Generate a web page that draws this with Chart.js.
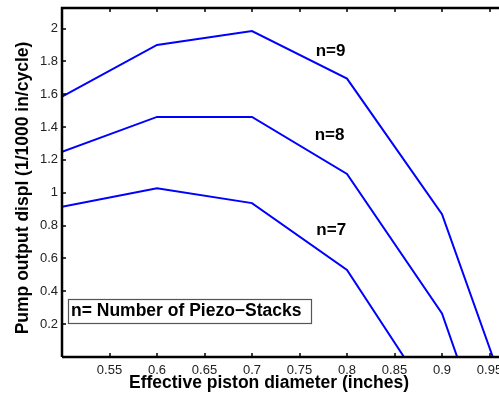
<!DOCTYPE html>
<html>
<head>
<meta charset="utf-8">
<script src="https://cdn.jsdelivr.net/npm/chart.js@4"></script>
<style>
  body { margin: 0; background: #fff; overflow: hidden; }
</style>
</head>
<body>
<canvas id="pumpChart" width="499" height="394"></canvas>
<script>
// diametre effectif du piston (pouces)
const diam9 = [0.5, 0.6, 0.7, 0.8, 0.9, 0.9535];
const displ9 = [1.585, 1.90, 1.985, 1.695, 0.87, 0];
const diam8 = [0.5, 0.6, 0.7, 0.8, 0.9, 0.916];
const displ8 = [1.25, 1.462, 1.462, 1.115, 0.265, 0];
const diam7 = [0.5, 0.6, 0.7, 0.8, 0.86];
const displ7 = [0.915, 1.027, 0.937, 0.53, 0];
const seriesNames = ['n=9', 'n=8', 'n=7'];
const xTicks = [0.55, 0.6, 0.65, 0.7, 0.75, 0.8, 0.85, 0.9, 0.95];
const yTicks = [0.2, 0.4, 0.6, 0.8, 1, 1.2, 1.4, 1.6, 1.8, 2];

const toPts = (xs, ys) => xs.map((x, i) => ({ x: x, y: ys[i] }));

const FONT = '"Liberation Sans", Arial, Helvetica, sans-serif';

// cadre + ticks vers l'interieur (style matlab) et textes
const matlabFrame = {
    id: 'matlabFrame',
    afterDatasetsDraw(chart) {
        const ctx = chart.ctx;
        const a = chart.chartArea;
        const xs = chart.scales.x, ys = chart.scales.y;
        ctx.save();
        ctx.strokeStyle = '#000';
        ctx.lineWidth = 2.5;
        ctx.beginPath();
        ctx.moveTo(a.left, a.bottom);
        ctx.lineTo(a.left, a.top);
        ctx.lineTo(a.right + 5, a.top);
        ctx.moveTo(a.left, a.bottom);
        ctx.lineTo(a.right + 5, a.bottom);
        ctx.stroke();
        ctx.lineWidth = 1.5;
        ctx.beginPath();
        xTicks.forEach(v => {
            const px = Math.round(xs.getPixelForValue(v));
            ctx.moveTo(px, a.bottom); ctx.lineTo(px, a.bottom - 4);
            ctx.moveTo(px, a.top); ctx.lineTo(px, a.top + 4);
        });
        yTicks.forEach(v => {
            const py = Math.round(ys.getPixelForValue(v));
            ctx.moveTo(a.left, py); ctx.lineTo(a.left + 4, py);
        });
        ctx.stroke();

        // etiquettes des courbes
        ctx.fillStyle = '#000';
        ctx.font = 'bold 17px ' + FONT;
        ctx.textAlign = 'center';
        ctx.textBaseline = 'middle';
        const lblPos = [[0.7827, 1.864], [0.7816, 1.352], [0.7834, 0.773]];
        seriesNames.forEach((s, i) => {
            ctx.fillText(s, xs.getPixelForValue(lblPos[i][0]), ys.getPixelForValue(lblPos[i][1]));
        });

        // boite texte
        ctx.fillStyle = '#fff';
        ctx.fillRect(68, 299, 244, 24);
        ctx.strokeStyle = '#555';
        ctx.lineWidth = 1.2;
        ctx.strokeRect(68.5, 299.5, 243, 24);
        ctx.fillStyle = '#000';
        ctx.font = 'bold 17.5px ' + FONT;
        ctx.textAlign = 'left';
        ctx.fillText('n= Number of Piezo\u2212Stacks', 71, 311.5);

        // titres des axes
        ctx.font = 'bold 17.5px ' + FONT;
        ctx.textAlign = 'center';
        ctx.fillText('Effective piston diameter (inches)', 269, 383);
        ctx.translate(23, 188);
        ctx.rotate(-Math.PI / 2);
        ctx.fillText('Pump output displ (1/1000 in/cycle)', 0, 0);
        ctx.restore();
    }
};

const lineStyle = {
    borderColor: 'rgb(0, 0, 255)',
    backgroundColor: 'rgb(0, 0, 255)',
    borderWidth: 2,
    pointRadius: 0,
    tension: 0,
    fill: false
};

const config = {
    type: 'line',
    data: {
        datasets: [
            Object.assign({ label: seriesNames[0], data: toPts(diam9, displ9) }, lineStyle),
            Object.assign({ label: seriesNames[1], data: toPts(diam8, displ8) }, lineStyle),
            Object.assign({ label: seriesNames[2], data: toPts(diam7, displ7) }, lineStyle)
        ]
    },
    options: {
        responsive: false,
        animation: false,
        layout: { padding: { left: 0, right: 0, top: 8, bottom: 0 } },
        plugins: {
            legend: { display: false },
            tooltip: { enabled: false },
            title: { display: false }
        },
        scales: {
            x: {
                type: 'linear',
                min: 0.5,
                max: 0.96,
                grid: { display: false, drawTicks: false },
                border: { display: false },
                afterBuildTicks: s => { s.ticks = xTicks.map(v => ({ value: v })); },
                afterFit: s => { s.height = 37; s.paddingLeft = 0; s.paddingRight = 0; },
                ticks: {
                    color: '#222',
                    font: { family: FONT, size: 13 },
                    padding: 6,
                    maxRotation: 0,
                    autoSkip: false,
                    callback: v => String(+v.toFixed(2))
                }
            },
            y: {
                min: 0,
                max: 2.125,
                grid: { display: false, drawTicks: false },
                border: { display: false },
                afterBuildTicks: s => { s.ticks = yTicks.map(v => ({ value: v })); },
                afterFit: s => { s.width = 62; s.paddingTop = 0; s.paddingBottom = 0; },
                ticks: {
                    color: '#222',
                    font: { family: FONT, size: 13 },
                    padding: 4,
                    autoSkip: false,
                    callback: v => String(+v.toFixed(1))
                }
            }
        }
    },
    plugins: [matlabFrame]
};

const ctxPump = document.getElementById('pumpChart').getContext('2d');
var pumpChart = new Chart(ctxPump, config);
</script>
</body>
</html>
